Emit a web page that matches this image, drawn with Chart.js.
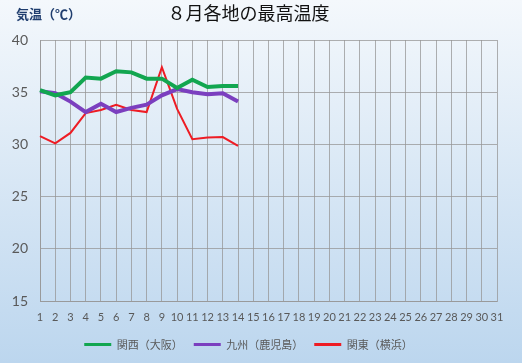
<!DOCTYPE html>
<html><head><meta charset="utf-8">
<script src="https://cdn.jsdelivr.net/npm/chart.js@4/dist/chart.umd.min.js"></script>
<style>
html,body{margin:0;padding:0;background:#d6e4f2;}
#wrap{width:522px;height:363px;position:relative;}
</style></head>
<body><div id="wrap"><canvas id="c" width="522" height="363"></canvas></div>
<script>
const days = Array.from({length:31},(_,i)=>String(i+1));
const kansai = [35.2,34.7,35.0,36.4,36.3,37.0,36.9,36.3,36.3,35.4,36.2,35.5,35.6,35.6];
const kyushu = [35.1,34.9,34.1,33.1,33.9,33.1,33.5,33.8,34.7,35.3,35.0,34.8,34.9,34.1];
const kanto  = [30.8,30.1,31.1,33.0,33.3,33.8,33.3,33.1,37.4,33.4,30.5,30.65,30.7,29.85];
const seriesNames = ['関西（大阪）','九州（鹿児島）','関東（横浜）'];
const yTicks = [15,20,25,30,35,40];

const numFont = "Lato, 'Noto Sans CJK JP', sans-serif";
const jpFont = "'Noto Sans CJK JP', sans-serif";

const bgPlugin = {
  id:'bg',
  beforeDraw(chart){
    const {ctx,width,height} = chart;
    const g = ctx.createLinearGradient(0,0,0,height);
    g.addColorStop(0,'#f4f8fc');
    g.addColorStop(1,'#bcd6ee');
    ctx.save();ctx.fillStyle=g;ctx.fillRect(0,0,width,height);ctx.restore();
  },
  afterDraw(chart){
    const ctx = chart.ctx;
    ctx.save();
    ctx.font = "bold 13px " + jpFont;
    ctx.fillStyle = '#1f3d6e';
    ctx.textBaseline='middle';
    ctx.fillText('気温（℃）', 16, 14);
    ctx.restore();
  }
};

const mk = (name, data, color, w) => ({
  label:name, data:data, borderColor:color, backgroundColor:color,
  borderWidth:w, pointRadius:0, pointHoverRadius:0, tension:0, fill:false
});

new Chart(document.getElementById('c'), {
  type:'line',
  data:{
    labels: days,
    datasets:[
      mk(seriesNames[0], kansai, '#12a650', 4),
      mk(seriesNames[1], kyushu, '#7b3fbf', 4),
      mk(seriesNames[2], kanto, '#ee1c24', 2)
    ]
  },
  plugins:[bgPlugin],
  options:{
    responsive:false, animation:false,
    layout:{padding:{left:0,right:25,top:0,bottom:3}},
    plugins:{
      title:{display:true, text:'８月各地の最高温度', color:'#111',
        font:{family:jpFont,size:18,weight:'normal'}, padding:{top:2,bottom:16.4}},
      legend:{position:'bottom',
        labels:{font:{family:jpFont,size:11}, color:'#595959', boxWidth:27, boxHeight:3, padding:11,
          generateLabels(chart){
            return chart.data.datasets.map((d,i)=>({text:d.label, fillStyle:d.borderColor, strokeStyle:d.borderColor, lineWidth:0, fontColor:'#595959', datasetIndex:i, hidden:false}));
          }}},
      tooltip:{enabled:false}
    },
    scales:{
      x:{type:'category', offset:false,
        grid:{color:'rgba(150,150,150,0.75)', drawTicks:false, lineWidth:1},
        border:{color:'rgba(150,150,150,0.75)'},
        ticks:{font:{family:numFont,size:11}, color:'#595959', padding:10, maxRotation:0, autoSkip:false},
        afterFit(s){s.height=27;}
      },
      y:{min:15,max:40,
        afterBuildTicks(s){s.ticks = yTicks.map(v=>({value:v}));},
        grid:{color:'rgba(150,150,150,0.75)', drawTicks:false},
        border:{color:'rgba(150,150,150,0.75)'},
        ticks:{font:{family:numFont,size:14}, color:'#595959', padding:12},
        afterFit(s){s.width=40;}
      }
    }
  }
});
</script></body></html>
